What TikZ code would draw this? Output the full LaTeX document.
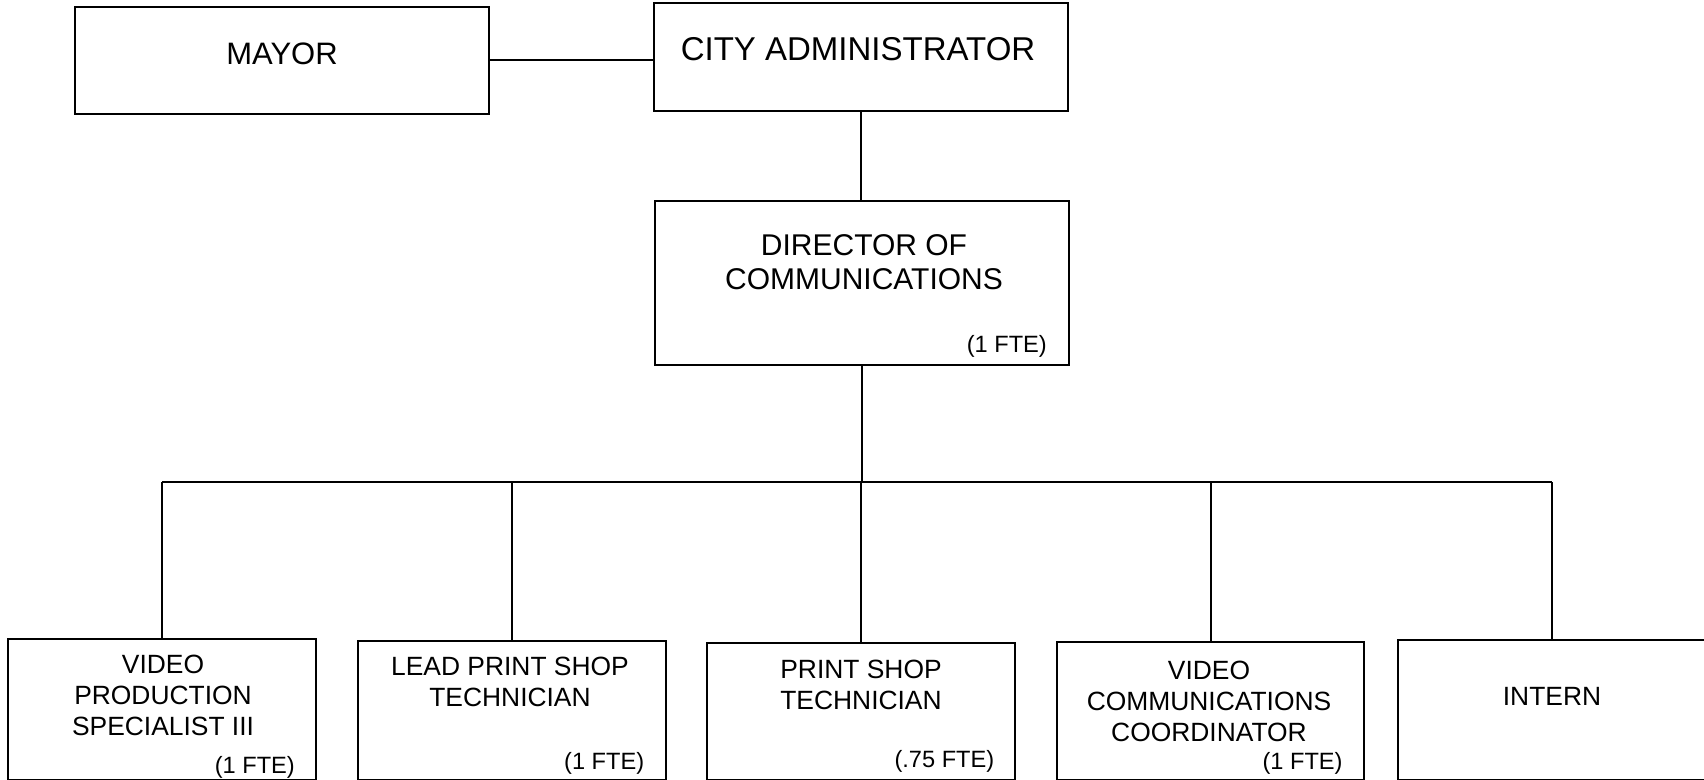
\documentclass[tikz,border=0pt]{standalone}
\usepackage{fontspec}
\setmainfont{Liberation Sans}
\begin{document}
\begin{tikzpicture}[x=0.5pt,y=-0.5pt]
	\tikzstyle{every node}+=[inner sep=0pt]
	\tikzstyle{post}=[draw=black, line width=1.2pt, rectangle]
	\tikzstyle{headtxt}=[align=center, anchor=north]
	\tikzstyle{stafftxt}=[align=center, anchor=north, font=\fontsize{13.2}{15.5}\selectfont]
	\tikzstyle{fte}=[anchor=base east, font=\fontsize{11.8}{14}\selectfont]
	\useasboundingbox (0,0) rectangle (1704,780);
	% top row
	\draw (282,60.5) node [post, minimum width=207pt, minimum height=53.5pt] (mayor) {};
	\draw (282,42.7) node [headtxt, font=\fontsize{15.5}{18}\selectfont] (mayortxt) {MAYOR};
	\draw (861,57) node [post, minimum width=207pt, minimum height=54pt] (city) {};
	\draw (858,37.3) node [headtxt, font=\fontsize{16.5}{19}\selectfont] (citytxt) {CITY ADMINISTRATOR};
	\draw (862,283) node [post, minimum width=207pt, minimum height=82pt] (director) {};
	\draw (864,234) node [headtxt, font=\fontsize{15}{17}\selectfont] (directortxt) {DIRECTOR OF\\COMMUNICATIONS};
	\draw ([xshift=-11.5pt,yshift=7pt]director.south east) node [fte] (directorfte) {(1 FTE)};
	% staff row
	\draw (162,709.5) node [post, minimum width=154pt, minimum height=70.5pt] (video) {};
	\draw (163,655) node [stafftxt] (videotxt) {VIDEO\\PRODUCTION\\SPECIALIST III};
	\draw ([xshift=-11pt,yshift=3.7pt]video.south east) node [fte] (videofte) {(1 FTE)};
	\draw (512,710.5) node [post, minimum width=154pt, minimum height=69.5pt] (lead) {};
	\draw (510,656.7) node [stafftxt] (leadtxt) {LEAD PRINT SHOP\\TECHNICIAN};
	\draw ([xshift=-11.3pt,yshift=5.8pt]lead.south east) node [fte] (leadfte) {(1 FTE)};
	\draw (861,711.5) node [post, minimum width=154pt, minimum height=68.5pt] (print) {};
	\draw (861,660) node [stafftxt] (printtxt) {PRINT SHOP\\TECHNICIAN};
	\draw ([xshift=-10.8pt,yshift=6.7pt]print.south east) node [fte] (printfte) {(.75 FTE)};
	\draw (1210.5,711) node [post, minimum width=153.5pt, minimum height=69pt] (coord) {};
	\draw (1209,661) node [stafftxt] (coordtxt) {VIDEO\\COMMUNICATIONS\\COORDINATOR};
	\draw ([xshift=-11.1pt,yshift=5.8pt]coord.south east) node [fte] (coordfte) {(1 FTE)};
	\draw (1552,710) node [post, minimum width=154pt, minimum height=70pt] (intern) {};
	\draw (1552,686.7) node [stafftxt] (interntxt) {INTERN};
	% connectors
	\coordinate (busL) at (161,482);
	\coordinate (busR) at (1554,482);
	\draw [line width=1pt] (mayor.east) -- (mayor.east -| city.west);
	\draw [line width=1pt] (city.south) -- (city.south |- director.north);
	\draw [line width=1pt] (director.south) -- (director.south |- busL);
	\draw [line width=1pt] (video.north |- busL) -- (intern.north |- busR);
	\foreach \post in {video,lead,print,coord,intern}
		\draw [line width=1pt] (\post.north) -- (\post.north |- busL);
\end{tikzpicture}
\end{document}
